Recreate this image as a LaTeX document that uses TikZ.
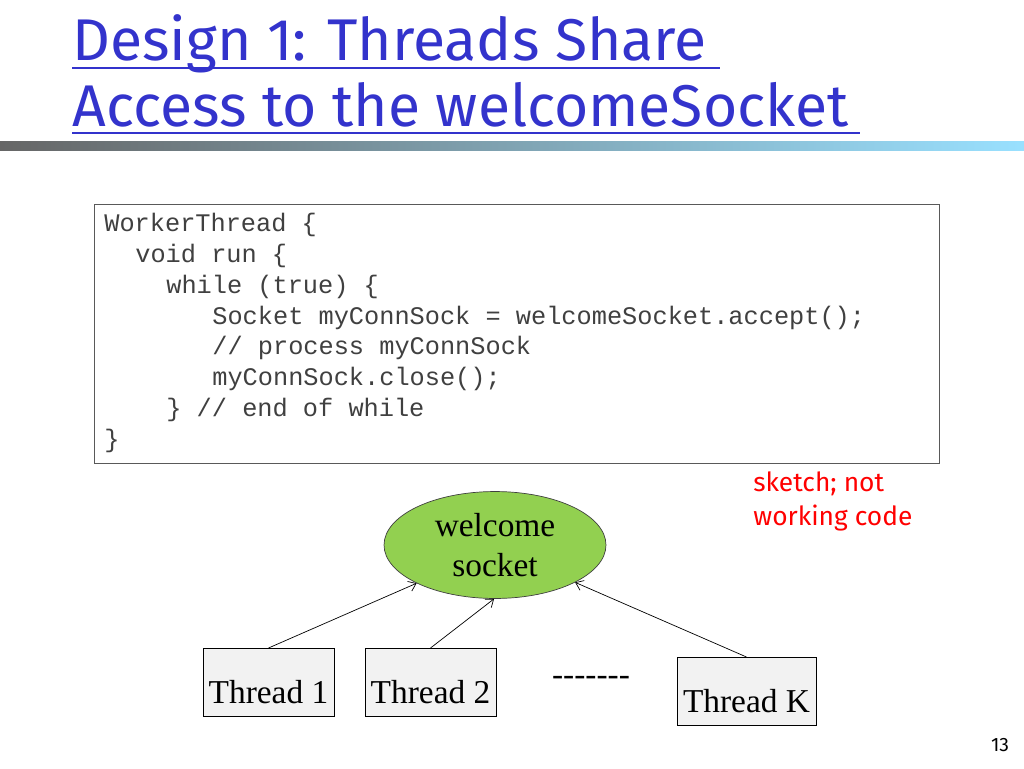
\documentclass[tikz,border=0pt]{standalone}
\usepackage{fontspec}
\setmainfont{Liberation Serif}
\setsansfont{Fira Sans}
\setmonofont{Liberation Mono}
\usetikzlibrary{shapes.geometric,arrows.meta}
\definecolor{titleblue}{RGB}{51,51,204}
\definecolor{socketgreen}{RGB}{146,208,80}
\definecolor{codegray}{RGB}{64,64,64}

\begin{document}
\begin{tikzpicture}[x=0.02cm, y=-0.02cm,
    threadbox/.style={draw, fill=gray!10, minimum width=2.54cm, minimum height=1.36cm, font=\fontsize{19pt}{21pt}\selectfont, text depth=0pt},
    codeline/.style={anchor=west, font=\ttfamily\fontsize{14.4pt}{16pt}\selectfont, text=codegray, inner sep=0pt},
    link/.style={-{Straight Barb[length=4pt, width=6pt]}, thin}]
    \useasboundingbox (0, 0) rectangle (1024, 768);

    % Title with underlines
    \node[anchor=base west, inner sep=0pt, text=titleblue, font=\sffamily\fontsize{33.5pt}{35pt}\selectfont] (T1) at (72, 60) {Design 1: Threads Share};
    \node[anchor=base west, inner sep=0pt, text=titleblue, font=\sffamily\fontsize{33.5pt}{35pt}\selectfont] (T2) at (72, 126) {Access to the welcomeSocket};
    \draw[titleblue, thick] (T1.base west) ++(0, 8) -- ++(648, 0);
    \draw[titleblue, thick] (T2.base west) ++(0, 7) -- ++(788, 0);

    % Gradient bar
    \shade[left color=gray!80!black, right color=blue!30!cyan!40] (0, 141) rectangle (1024, 150);

    % Code box
    \draw[fill=white, draw=gray!70!black] (94, 204) rectangle (939, 463);
    \node[codeline] (L1) at (104, 225) {WorkerThread \{};
    \node[codeline] (L2) at (135, 256) {void run \{};
    \node[codeline] (L3) at (166, 287) {while (true) \{};
    \node[codeline] (L4) at (212, 318) {Socket myConnSock = welcomeSocket.accept();};
    \node[codeline] (L5) at (212, 348) {// process myConnSock};
    \node[codeline] (L6) at (212, 379) {myConnSock.close();};
    \node[codeline] (L7) at (166, 410) {\} // end of while};
    \node[codeline] (L8) at (104, 441) {\}};

    % Note
    \node[anchor=north west, align=left, text=red, inner sep=0pt, font=\sffamily\fontsize{15pt}{19.3pt}\selectfont] (note) at (753, 471) {sketch; not\\working code};

    % Welcome socket and threads
    \node[ellipse, draw=gray!50!black, fill=socketgreen, minimum width=4.44cm, minimum height=2cm, align=center, font=\fontsize{19pt}{23pt}\selectfont] (ws) at (495, 545) {welcome\\socket};
    \node[threadbox, anchor=north, text height=24pt] (th1) at (268.5, 648) {Thread 1};
    \node[threadbox, anchor=north, text height=24pt] (th2) at (430.5, 648) {Thread 2};
    \node[threadbox, anchor=north, text height=24pt] (thK) at (746.5, 657) {Thread K};
    \node[font=\fontsize{19pt}{21pt}\selectfont] (dots) at (591, 681) {{-}{-}{-}{-}{-}{-}{-}};

    % Connectors
    \draw[link] (th1.north) -- (ws.-154);
    \draw[link] (th2.north) -- (ws.-91);
    \draw[link] (thK.north) -- (ws.-25);

    % Page number
    \node[font=\sffamily\fontsize{11pt}{13pt}\selectfont] (page) at (1000, 745) {13};
\end{tikzpicture}
\end{document}
